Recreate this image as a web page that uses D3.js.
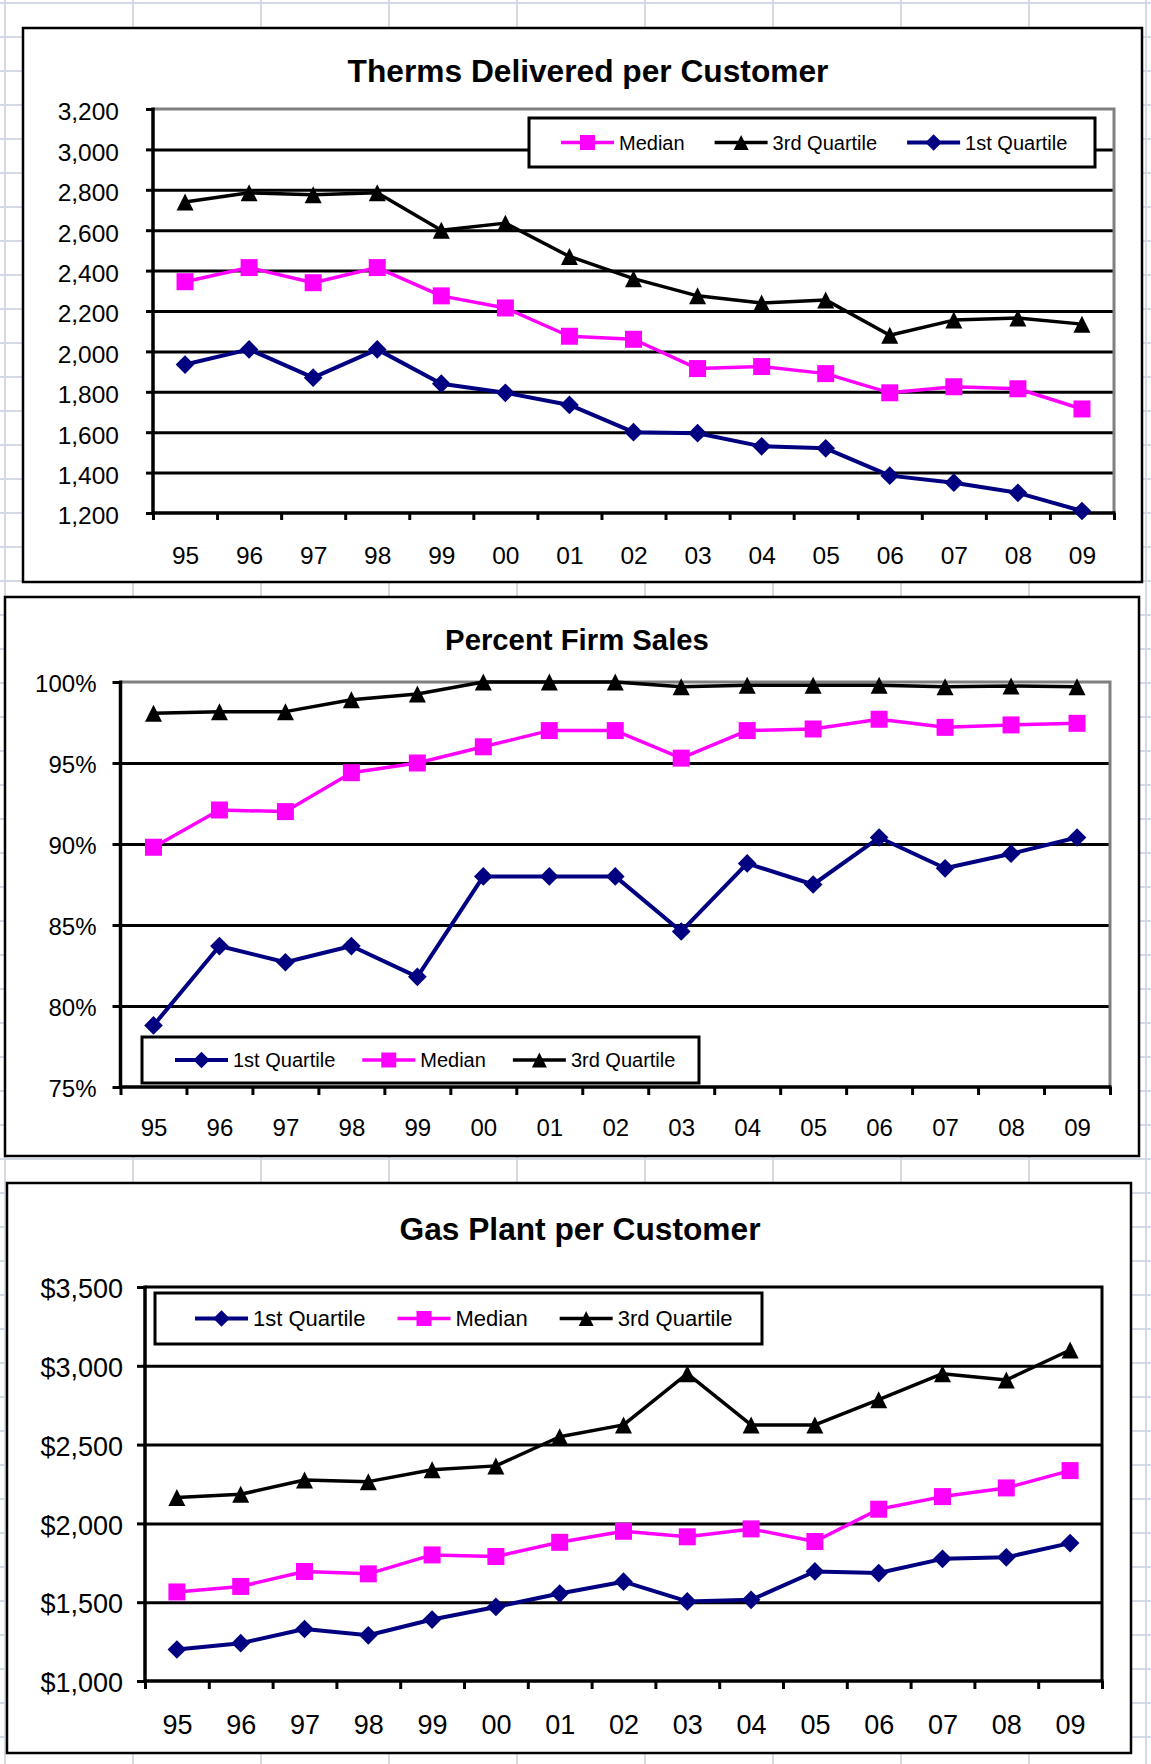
<!DOCTYPE html>
<html><head><meta charset="utf-8">
<script src="https://cdn.jsdelivr.net/npm/d3@7"></script>
<style>
body{margin:0;background:#fff}
svg{display:block}
text{font-family:"Liberation Sans", Arial, sans-serif}
</style>
</head><body>
<svg id="c" width="1151" height="1764"></svg>
<script>
// ---------- DATA ----------
const years = ["95","96","97","98","99","00","01","02","03","04","05","06","07","08","09"];

const thermsMedian = [2345,2415,2340,2415,2275,2215,2075,2060,1915,1925,1890,1795,1825,1815,1715];
const thermsQ3     = [2740,2785,2775,2785,2600,2635,2470,2360,2275,2240,2255,2080,2155,2165,2135];
const thermsQ1     = [1935,2010,1870,2010,1840,1795,1735,1600,1595,1530,1520,1385,1350,1300,1210];
const thermsTicks  = [1200,1400,1600,1800,2000,2200,2400,2600,2800,3000,3200];

const firmQ1     = [78.8,83.7,82.7,83.7,81.8,88.0,88.0,88.0,84.6,88.8,87.5,90.4,88.5,89.4,90.4];
const firmMedian = [89.8,92.1,92.0,94.4,95.0,96.0,97.0,97.0,95.3,97.0,97.1,97.7,97.2,97.35,97.45];
const firmQ3     = [98.07,98.17,98.17,98.9,99.26,100,100,100,99.7,99.8,99.8,99.8,99.7,99.75,99.7];
const firmTicks  = [75,80,85,90,95,100];

const plantQ1     = [1200,1240,1330,1290,1390,1470,1555,1630,1505,1515,1695,1685,1775,1785,1875];
const plantMedian = [1565,1600,1695,1680,1800,1790,1880,1950,1915,1965,1885,2090,2170,2225,2335];
const plantQ3     = [2165,2185,2275,2265,2340,2365,2550,2625,2950,2625,2625,2785,2950,2910,3100];
const plantTicks  = [1000,1500,2000,2500,3000,3500];

const seriesNames = {q1:"1st Quartile", med:"Median", q3:"3rd Quartile"};

// ---------- STYLE ----------
const styles = {
  med:{color:"#FF00FF", marker:"square", width:3.5, ms:1},
  q3:{color:"#000000", marker:"triangle", width:3.5, ms:1},
  q1:{color:"#000080", marker:"diamond", width:4, ms:1.1}
};
const FONT = '"Liberation Sans", Arial, sans-serif';

const svg = d3.select("#c");

// spreadsheet background grid
const sheet = svg.append("g").attr("stroke","#d3d9e6").attr("stroke-width",2);
d3.range(0, 9).forEach(k => sheet.append("line").attr("x1",5+128*k).attr("x2",5+128*k).attr("y1",0).attr("y2",1764));
sheet.append("line").attr("x1",1146).attr("x2",1146).attr("y1",0).attr("y2",1764);
d3.range(0, 52).forEach(k => sheet.append("line").attr("x1",0).attr("x2",1151).attr("y1",3+34*k).attr("y2",3+34*k));

function markerPath(type, s){
  const h = s/2;
  if(type==="square") return `M${-h},${-h}H${h}V${h}H${-h}Z`;
  if(type==="diamond") return `M0,${-h}L${h},0L0,${h}L${-h},0Z`;
  return `M0,${-h}L${h},${h}L${-h},${h}Z`;
}

function drawChart(c){
  const g = svg.append("g");
  g.append("rect").attr("x",c.frame[0]).attr("y",c.frame[1]).attr("width",c.frame[2]).attr("height",c.frame[3])
    .attr("fill","#fff").attr("stroke","#000").attr("stroke-width",2.5);

  const x = d3.scaleLinear().domain([0, years.length]).range([c.l, c.r]);
  const y = d3.scaleLinear().domain([c.yTicks[0], c.yTicks[c.yTicks.length-1]]).range([c.b, c.t]);

  // title
  g.append("text").attr("x",c.titleX).attr("y",c.titleY).attr("text-anchor","middle")
    .attr("font-size",c.titleSize).attr("font-weight","bold").text(c.title);

  // gridlines
  const inner = c.yTicks.slice(1, -1);
  g.append("g").attr("transform",`translate(${c.l},0)`)
    .call(d3.axisLeft(y).tickValues(inner).tickSize(-(c.r-c.l)).tickFormat(""))
    .call(s=>s.select(".domain").remove())
    .selectAll("line").attr("stroke","#000").attr("stroke-width",3);

  // top/right border
  g.append("path").attr("d",`M${c.l},${c.t}H${c.r}V${c.b}`).attr("fill","none")
    .attr("stroke",c.border).attr("stroke-width",3);

  // y axis
  const ya = g.append("g").attr("transform",`translate(${c.l},0)`)
    .call(d3.axisLeft(y).tickValues(c.yTicks).tickSize(c.tick).tickSizeOuter(0).tickPadding(c.ypad).tickFormat(c.fmt));
  ya.select(".domain").remove();
  ya.selectAll("line").attr("stroke","#000").attr("stroke-width",3);
  ya.selectAll("text").attr("font-family",FONT).attr("font-size",c.axisFont).attr("fill","#000")
    .attr("transform",`translate(0,${c.ydy})`);

  // x axis ticks
  const xa = g.append("g").attr("transform",`translate(0,${c.b})`)
    .call(d3.axisBottom(x).tickValues(d3.range(0, years.length+1)).tickSize(c.tick).tickSizeOuter(0).tickFormat(""));
  xa.select(".domain").remove();
  xa.selectAll("line").attr("stroke","#000").attr("stroke-width",3);

  // x labels
  const xl = g.append("g").attr("transform",`translate(0,${c.b})`)
    .call(d3.axisBottom(x).tickValues(d3.range(0, years.length).map(i=>i+0.5)).tickSize(0).tickPadding(c.xpad)
      .tickFormat((d)=>years[Math.floor(d)]));
  xl.select(".domain").remove();
  xl.selectAll("text").attr("font-family",FONT).attr("font-size",c.axisFont).attr("fill","#000");

  // axis lines
  g.append("path").attr("d",`M${c.l},${c.t-1.5}V${c.b}H${c.r+1.5}`).attr("fill","none")
    .attr("stroke","#000").attr("stroke-width",3.5);

  // series
  const order = ["q3","med","q1"];
  order.forEach(k=>{
    const vals = c.data[k], st = styles[k];
    const line = d3.line().x((d,i)=>x(i+0.5)).y(d=>y(d));
    g.append("path").datum(vals).attr("d",line).attr("fill","none")
      .attr("stroke",st.color).attr("stroke-width",st.width).attr("stroke-linejoin","round");
    g.selectAll(null).data(vals).enter().append("path")
      .attr("transform",(d,i)=>`translate(${x(i+0.5)},${y(d)})`)
      .attr("d",markerPath(st.marker, c.msize*st.ms)).attr("fill",st.color);
  });

  // legend
  const L = c.legend;
  const lg = g.append("g");
  lg.append("rect").attr("x",L.x).attr("y",L.y).attr("width",L.w).attr("height",L.h)
    .attr("fill","#fff").attr("stroke","#000").attr("stroke-width",3);
  let cx = L.x + L.pad;
  const cy = L.y + L.h/2;
  L.order.forEach(k=>{
    const st = styles[k];
    lg.append("line").attr("x1",cx).attr("x2",cx+53).attr("y1",cy).attr("y2",cy)
      .attr("stroke",st.color).attr("stroke-width",st.width);
    lg.append("path").attr("transform",`translate(${cx+26.5},${cy})`)
      .attr("d",markerPath(st.marker, L.msize*st.ms)).attr("fill",st.color);
    const t = lg.append("text").attr("x",cx+58).attr("y",cy).attr("dy","0.36em")
      .attr("font-size",L.font).text(seriesNames[k]);
    cx = cx + 58 + t.node().getComputedTextLength() + L.gap;
  });
}

drawChart({
  frame:[23,28,1119,554], l:153, r:1114, t:109, b:513,
  yTicks: thermsTicks, fmt: d3.format(","), tick:7, ypad:27, xpad:34, ydy:3,
  axisFont:24.5, title:"Therms Delivered per Customer", titleX:588, titleY:82, titleSize:31.7,
  border:"#808080", msize:17,
  data:{q1:thermsQ1, med:thermsMedian, q3:thermsQ3},
  legend:{x:529, y:118, w:566, h:49, pad:32, gap:30, font:20, msize:15, order:["med","q3","q1"]}
});

drawChart({
  frame:[5,597,1134,559], l:120.5, r:1110, t:682, b:1087,
  yTicks: firmTicks, fmt: d=>d+"%", tick:8, ypad:16, xpad:32, ydy:2,
  axisFont:24, title:"Percent Firm Sales", titleX:577, titleY:650, titleSize:29.3,
  border:"#808080", msize:17,
  data:{q1:firmQ1, med:firmMedian, q3:firmQ3},
  legend:{x:142, y:1037, w:557, h:46, pad:33, gap:27, font:20, msize:15, order:["q1","med","q3"]}
});

drawChart({
  frame:[7,1183,1124,570], l:145, r:1102, t:1287, b:1681,
  yTicks: plantTicks, fmt: d=>"$"+d3.format(",")(d), tick:8, ypad:14, xpad:34, ydy:2,
  axisFont:27, title:"Gas Plant per Customer", titleX:580, titleY:1240, titleSize:31.7,
  border:"#000000", msize:17,
  data:{q1:plantQ1, med:plantMedian, q3:plantQ3},
  legend:{x:155, y:1293, w:607, h:51, pad:40, gap:32, font:22, msize:15, order:["q1","med","q3"]}
});
</script>
</body></html>
